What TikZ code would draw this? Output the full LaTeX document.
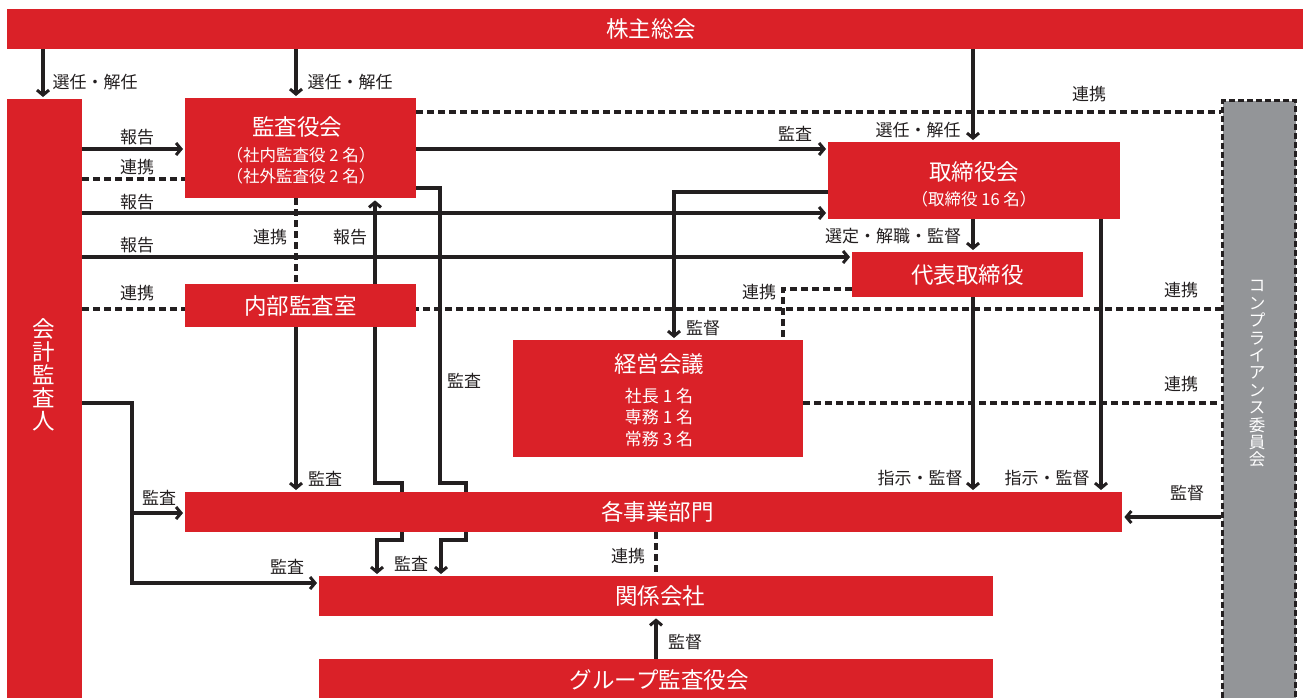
\documentclass[tikz,border=0pt]{standalone}
\usepackage{fontspec}
\setmainfont{Noto Sans CJK JP}
\usetikzlibrary{arrows.meta,backgrounds}
\definecolor{jred}{HTML}{DA2128}
\definecolor{jgray}{HTML}{939598}
\definecolor{ink}{HTML}{231F20}
\tikzset{
  box/.style={fill=jred, text=white, inner sep=0pt, align=center, font=\fontsize{22.5}{26}\selectfont},
  wtxt/.style={text=white, inner sep=0pt, align=center},
  lab/.style={text=ink, inner sep=0pt, font=\fontsize{17}{19}\selectfont},
  conn/.style={draw=ink, line width=3.2pt},
  arr/.style={conn, shorten >=2pt, -{Straight Barb[length=5pt,width=12pt,line width=3pt]}},
  dline/.style={draw=ink, line width=3.2pt, dash pattern=on 7pt off 4pt},
}
\begin{document}
\begin{tikzpicture}[x=1pt,y=-1pt]
\useasboundingbox (0,0) rectangle (1303,697);
\begin{scope}
\clip (0,0) rectangle (1303,697);
% boxes
\node[box, minimum width=1300, minimum height=40, anchor=north west] (top) at (7,9) {\hspace*{-12pt}株主総会};
\node[box, minimum width=75, minimum height=610, anchor=north west] (kaikei) at (7,99) {};
\node[wtxt, font=\fontsize{22.5}{23}\selectfont] (kaikei-t) at (44,375) {会\\計\\監\\査\\人};
\node[box, minimum width=231, minimum height=100, anchor=north west] (kansayaku) at (185,98) {};
\node[wtxt, font=\fontsize{22.5}{26}\selectfont] (kansayaku-t) at (297,127) {監査役会};
\node[wtxt, font=\fontsize{16.5}{18}\selectfont] (kansayaku-s1) at (301,155) {（社内監査役 2 名）};
\node[wtxt, font=\fontsize{16.5}{18}\selectfont] (kansayaku-s2) at (301,176) {（社外監査役 2 名）};
\node[box, minimum width=292, minimum height=77, anchor=north west] (torishimari) at (828,142) {};
\node[wtxt, font=\fontsize{22.5}{26}\selectfont] (torishimari-t) at (974,172) {取締役会};
\node[wtxt, font=\fontsize{16.5}{18}\selectfont] (torishimari-s) at (974,199) {（取締役 16 名）};
\node[box, minimum width=231, minimum height=45, anchor=north west] (daihyo) at (852,252) {代表取締役};
\node[box, minimum width=231, minimum height=43, anchor=north west] (naibu) at (185,284) {内部監査室};
\node[box, minimum width=290, minimum height=117, anchor=north west] (keiei) at (513,340) {};
\node[wtxt, font=\fontsize{22.5}{26}\selectfont] (keiei-t) at (659,364) {経営会議};
\node[wtxt, font=\fontsize{17}{18}\selectfont] (keiei-s1) at (659,396) {社長 1 名};
\node[wtxt, font=\fontsize{17}{18}\selectfont] (keiei-s2) at (659,417) {専務 1 名};
\node[wtxt, font=\fontsize{17}{18}\selectfont] (keiei-s3) at (659,439) {常務 3 名};
\node[box, minimum width=937, minimum height=40, anchor=north west] (kakujigyo) at (185,492) {\hspace*{8pt}各事業部門};
\node[box, minimum width=674, minimum height=40, anchor=north west] (kankei) at (319,576) {\hspace*{8pt}関係会社};
\node[box, minimum width=674, minimum height=41, anchor=north west] (group) at (319,659) {\hspace*{6pt}グループ監査役会};
\node[draw=ink, line width=3pt, dash pattern=on 6pt off 3pt, fill=jgray, inner sep=0pt, minimum width=73, minimum height=640, anchor=north west] (comp) at (1221,99) {};
\node[wtxt, font=\fontsize{16.5}{17.4}\selectfont] (comp-t) at (1257,374) {コ\\ン\\プ\\ラ\\イ\\ア\\ン\\ス\\委\\員\\会};
\end{scope}
% helper coordinates
\coordinate (cA) at (43,0);  \coordinate (cB) at (296,0); \coordinate (cC) at (973,0);
\coordinate (cD) at (375,0); \coordinate (cE) at (440,0); \coordinate (cF) at (1101,0);
\coordinate (cG) at (674,0); \coordinate (cH) at (783,0); \coordinate (cI) at (656,0);
\coordinate (cJ) at (132,0); \coordinate (cK) at (402,0); \coordinate (cL) at (466,0);
\coordinate (cM) at (377,0); \coordinate (cN) at (441,0);
\coordinate (r112) at (0,112); \coordinate (r149) at (0,149); \coordinate (r179) at (0,179);
\coordinate (r188) at (0,188); \coordinate (r192) at (0,192); \coordinate (r213) at (0,213);
\coordinate (r257) at (0,257); \coordinate (r289) at (0,289); \coordinate (r309) at (0,309);
\coordinate (r403) at (0,403); \coordinate (r483) at (0,483); \coordinate (r513) at (0,513);
\coordinate (r517) at (0,517); \coordinate (r540) at (0,540); \coordinate (r583) at (0,583);
\begin{scope}[on background layer]
\draw[arr] (top.south -| cA) -- (kaikei.north -| cA);
\draw[arr] (top.south -| cB) -- (kansayaku.north -| cB);
\draw[arr] (top.south -| cC) -- (torishimari.north -| cC);
\draw[arr] (kaikei.east |- r149) -- (kansayaku.west |- r149);
\draw[dline] (kaikei.east |- r179) -- (kansayaku.west |- r179);
\draw[arr] (kaikei.east |- r213) -- (torishimari.west |- r213);
\draw[arr] (kaikei.east |- r257) -- (daihyo.west |- r257);
\draw[dline] (kaikei.east |- r309) -- (comp.west |- r309);
\draw[dline] (kansayaku.east |- r112) -- (comp.west |- r112);
\draw[arr] (kansayaku.east |- r149) -- (torishimari.west |- r149);
\draw[arr] (kansayaku.east |- r188) -- (cE |- r188) -- (cE |- r483) -- (cL |- r483) -- (cL |- r540) -- (cN |- r540) -- (kankei.north -| cN);
\draw[dline] (kansayaku.south -| cB) -- (naibu.north -| cB);
\draw[arr] (naibu.north -| cD) -- (kansayaku.south -| cD);
\draw[arr] (naibu.south -| cB) -- (kakujigyo.north -| cB);
\draw[arr] (naibu.south -| cD) -- (cD |- r483) -- (cK |- r483) -- (cK |- r540) -- (cM |- r540) -- (kankei.north -| cM);
\draw[arr] (kaikei.east |- r403) -- (cJ |- r403) -- (cJ |- r583) -- (kankei.west |- r583);
\draw[arr] (cJ |- r513) -- (kakujigyo.west |- r513);
\draw[arr] (torishimari.south -| cC) -- (daihyo.north -| cC);
\draw[arr] (torishimari.west |- r192) -- (cG |- r192) -- (keiei.north -| cG);
\draw[dline] (daihyo.west |- r289) -- (cH |- r289) -- (keiei.north -| cH);
\draw[arr] (daihyo.south -| cC) -- (kakujigyo.north -| cC);
\draw[arr] (torishimari.south -| cF) -- (kakujigyo.north -| cF);
\draw[dline] (keiei.east |- r403) -- (comp.west |- r403);
\draw[arr] (comp.west |- r517) -- (kakujigyo.east |- r517);
\draw[dline] (kakujigyo.south -| cI) -- (kankei.north -| cI);
\draw[arr] (group.north -| cI) -- (kankei.south -| cI);
\end{scope}
% labels
\node[lab] (l1) at (95,82) {選任・解任};
\node[lab] (l2) at (350,82) {選任・解任};
\node[lab] (l3) at (918,130) {選任・解任};
\node[lab] (l4) at (1089,94) {連携};
\node[lab] (l5) at (137,137) {報告};
\node[lab] (l6) at (137,167) {連携};
\node[lab] (l7) at (137,202) {報告};
\node[lab] (l8) at (137,245) {報告};
\node[lab] (l9) at (137,293) {連携};
\node[lab] (l10) at (270,237) {連携};
\node[lab] (l11) at (350,237) {報告};
\node[lab] (l12) at (795,134) {監査};
\node[lab] (l13) at (893,236) {選定・解職・監督};
\node[lab] (l14) at (759,292) {連携};
\node[lab] (l15) at (1181,290) {連携};
\node[lab] (l16) at (703,328) {監督};
\node[lab] (l17) at (464,381) {監査};
\node[lab] (l18) at (1181,384) {連携};
\node[lab] (l19) at (920,478) {指示・監督};
\node[lab] (l20) at (1047,478) {指示・監督};
\node[lab] (l21) at (1187,493) {監督};
\node[lab] (l22) at (325,479) {監査};
\node[lab] (l23) at (159,498) {監査};
\node[lab] (l24) at (287,567) {監査};
\node[lab] (l25) at (411,564) {監査};
\node[lab] (l26) at (628,556) {連携};
\node[lab] (l27) at (685,642) {監督};
\end{tikzpicture}
\end{document}
